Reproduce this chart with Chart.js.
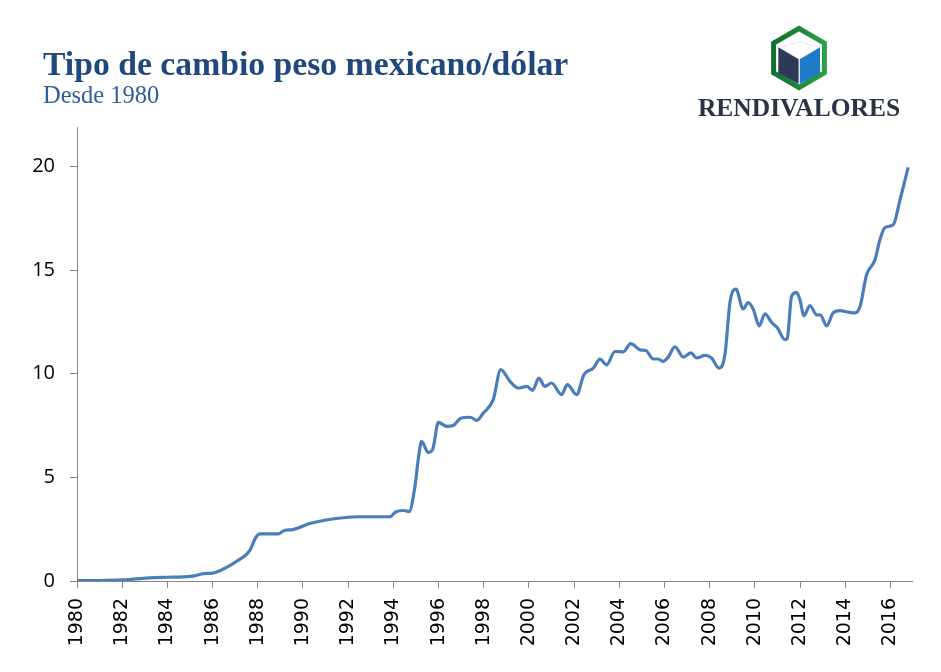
<!DOCTYPE html>
<html>
<head>
<meta charset="utf-8">
<script src="https://cdn.jsdelivr.net/npm/chart.js@4/dist/chart.umd.min.js"></script>
<style>
  html, body { margin: 0; padding: 0; background: #ffffff; }
  #wrap { position: relative; width: 941px; height: 672px; overflow: hidden; background: #fff; }
  #c { position: absolute; left: 0; top: 0; }
  .title { position: absolute; left: 43px; top: 47px; font-family: "Liberation Serif", serif; font-weight: bold; font-size: 33.7px; line-height: 1; color: #1F497D; white-space: nowrap; }
  .subtitle { position: absolute; left: 43px; top: 83px; font-family: "Liberation Serif", serif; font-size: 24.5px; line-height: 1; color: #2F5E9A; white-space: nowrap; }
  .brand { position: absolute; left: 799px; top: 95px; transform: translateX(-50%); font-family: "Liberation Serif", serif; font-weight: bold; font-size: 25.5px; line-height: 1; color: #2A3346; white-space: nowrap; }
  #logo { position: absolute; left: 0; top: 0; }
</style>
</head>
<body>
<div id="wrap">
  <canvas id="c" width="941" height="672"></canvas>
  <div class="title">Tipo de cambio peso mexicano/dólar</div>
  <div class="subtitle">Desde 1980</div>
  <svg id="logo" width="941" height="100" viewBox="0 0 941 100">
    <defs>
      <linearGradient id="g" x1="0" x2="1" y1="0" y2="0">
        <stop offset="0" stop-color="#11702F"/>
        <stop offset="1" stop-color="#2A9E48"/>
      </linearGradient>
    </defs>
    <polygon points="799,28.5 824.4,43.2 824.4,72.8 799,87.5 773.6,72.8 773.6,43.2" fill="#ffffff" stroke="url(#g)" stroke-width="5"/>
    <polygon points="799,41.7 820,47.3 800,59.3 778.3,47.3" fill="#ffffff" stroke="#d8dde4" stroke-width="0.6"/>
    <polygon points="778.3,47.3 798.6,59.3 798.6,84 778.3,73.3" fill="#2D3A55"/>
    <polygon points="799.8,59.3 820,47.3 820,73.3 799.8,84" fill="#1F7BC8"/>
  </svg>
  <div class="brand">RENDIVALORES</div>
</div>
<script>
// ---- data ----
const years = [
  1980.0, 1981.0, 1982.0, 1982.6, 1983.2, 1984.0, 1984.7, 1985.2, 1985.6, 1986.0,
  1986.5, 1987.07, 1987.65, 1987.9, 1988.1, 1988.9, 1989.2, 1989.5, 1990.3, 1990.9,
  1991.8, 1992.5, 1993.0, 1993.85, 1994.1, 1994.44, 1994.7, 1994.96, 1995.1, 1995.25,
  1995.54, 1995.74, 1995.99, 1996.36, 1996.65, 1997.0, 1997.4, 1997.69, 1997.98, 1998.42,
  1998.75, 1999.16, 1999.53, 1999.9, 2000.16, 2000.44, 2000.7, 2001.0, 2001.44, 2001.7,
  2002.11, 2002.43, 2002.85, 2003.14, 2003.44, 2003.8, 2004.17, 2004.5, 2004.95, 2005.17,
  2005.5, 2005.72, 2005.94, 2006.16, 2006.46, 2006.83, 2007.17, 2007.42, 2007.79, 2008.08,
  2008.41, 2008.67, 2008.9, 2009.16, 2009.48, 2009.7, 2009.93, 2010.19, 2010.44, 2010.74,
  2011.0, 2011.33, 2011.43, 2011.62, 2011.84, 2011.99, 2012.17, 2012.43, 2012.73, 2012.9,
  2013.17, 2013.46, 2013.76, 2014.13, 2014.42, 2014.65, 2014.94, 2015.31, 2015.53, 2015.75,
  2016.12, 2016.42, 2016.78
];
const pesosPorDolar = [
  0.023, 0.025, 0.05, 0.1, 0.15, 0.18, 0.2, 0.25, 0.36, 0.38,
  0.59, 0.95, 1.48, 2.08, 2.27, 2.27, 2.45, 2.47, 2.77, 2.92,
  3.05, 3.1, 3.1, 3.1, 3.33, 3.4, 3.35, 4.6, 5.85, 6.74,
  6.2, 6.35, 7.65, 7.46, 7.5, 7.86, 7.9, 7.75, 8.1, 8.75,
  10.2, 9.63, 9.31, 9.39, 9.2, 9.79, 9.39, 9.55, 8.99, 9.47,
  8.99, 9.95, 10.27, 10.7, 10.43, 11.07, 11.05, 11.45, 11.14, 11.12,
  10.71, 10.71, 10.59, 10.8, 11.29, 10.8, 11.0, 10.76, 10.88, 10.76,
  10.27, 10.9, 13.48, 14.08, 13.12, 13.43, 13.1, 12.31, 12.89, 12.47,
  12.2, 11.64, 11.7, 13.73, 13.92, 13.57, 12.8, 13.29, 12.84, 12.83,
  12.31, 12.93, 13.04, 12.97, 12.93, 13.24, 14.77, 15.49, 16.46, 17.05,
  17.18, 18.39, 19.95
];
const xTickYears = [1980, 1982, 1984, 1986, 1988, 1990, 1992, 1994, 1996, 1998,
  2000, 2002, 2004, 2006, 2008, 2010, 2012, 2014, 2016];
const yTickValues = [0, 5, 10, 15, 20];

const axisGrey = '#868686';

new Chart(document.getElementById('c'), {
  type: 'line',
  data: {
    datasets: [{
      data: years.map((x, i) => ({ x: x, y: pesosPorDolar[i] })),
      borderColor: '#4A7EBB',
      borderWidth: 3.2,
      pointRadius: 0,
      fill: false,
      cubicInterpolationMode: 'monotone'
    }]
  },
  options: {
    responsive: false,
    animation: false,
    events: [],
    layout: { padding: { top: 127, right: 29, left: 0, bottom: 0 } },
    plugins: { legend: { display: false }, tooltip: { enabled: false }, title: { display: false } },
    scales: {
      x: {
        type: 'linear',
        min: 1980,
        max: 2016.95,
        afterBuildTicks: s => { s.ticks = xTickYears.map(v => ({ value: v })); },
        afterFit: s => { s.height = 91; s.paddingLeft = 0; s.paddingRight = 0; },
        border: { color: axisGrey, width: 1 },
        grid: { drawOnChartArea: false, drawTicks: true, tickLength: 7, color: axisGrey },
        ticks: {
          autoSkip: false, minRotation: 90, maxRotation: 90, padding: 10,
          color: '#000', font: { family: 'DejaVu Sans', size: 19 },
          callback: v => String(v)
        }
      },
      y: {
        min: 0,
        max: 21.9,
        afterBuildTicks: s => { s.ticks = yTickValues.map(v => ({ value: v })); },
        afterFit: s => { s.width = 77; },
        border: { color: axisGrey, width: 1 },
        grid: { drawOnChartArea: false, drawTicks: true, tickLength: 7, color: axisGrey },
        ticks: {
          padding: 15, color: '#000', font: { family: 'Open Sans', size: 20 },
          callback: v => String(v)
        }
      }
    }
  }
});
</script>
</body>
</html>
